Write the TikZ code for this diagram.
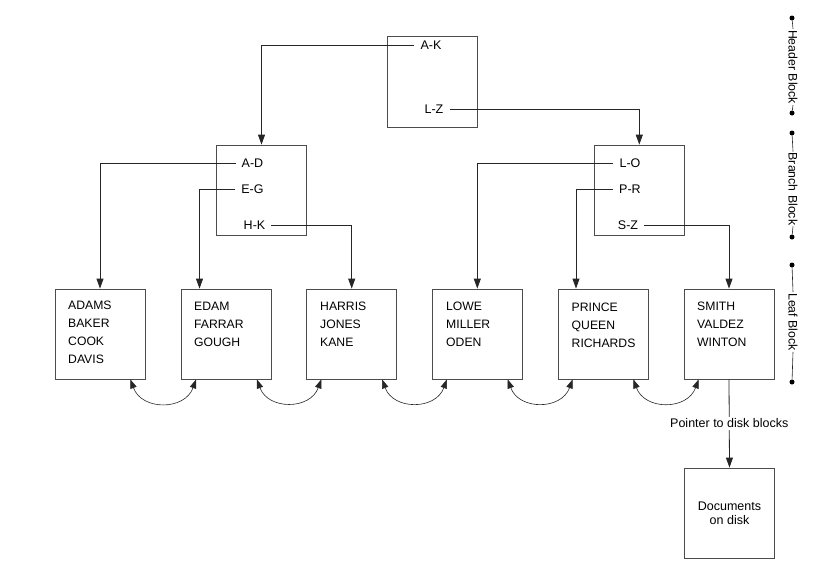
\documentclass[tikz,border=0pt]{standalone}
\usepackage{fontspec}
\setmainfont{Liberation Sans}
\usetikzlibrary{arrows.meta,calc}
\begin{document}
\begin{tikzpicture}[x=1pt,y=-1pt,
  box/.style={draw=black!70, line width=0.8pt, minimum width=90pt, minimum height=90pt, inner sep=0pt},
  lbl/.style={font=\fontsize{12.5}{14}\selectfont, inner sep=0pt, inner xsep=6pt},
  leaftxt/.style={font=\fontsize{12.2}{18}\selectfont, align=left, inner sep=0pt, anchor=north west},
  conn/.style={draw=black!85, line width=0.8pt, -{Triangle[length=10pt,width=7pt]}},
  dbl/.style={draw=black!85, line width=0.6pt, {Triangle[length=9pt,width=6.5pt]}-{Triangle[length=9pt,width=6.5pt]}},
  dot/.style={circle, fill=black, inner sep=0pt, minimum size=5pt},
  side/.style={font=\fontsize{12.3}{14}\selectfont, inner sep=1pt, rotate=-90},
  sideline/.style={draw=black!85, line width=0.6pt}
]
\useasboundingbox (0,0) rectangle (830,579);

% header block
\node[box, minimum height=91pt] (hdr) at (432.5,81.5) {};
\node[lbl] (ak) at (431,45) {A-K};
\node[lbl] (lz) at (434,109) {L-Z};

% branch blocks
\node[box] (bl) at (261.5,190) {};
\node[box] (br) at (639.3,190) {};
\node[lbl] (ad) at (252.5,163) {A-D};
\node[lbl] (eg) at (252.5,189) {E-G};
\node[lbl] (hk) at (254.5,225) {H-K};
\node[lbl] (lo) at (630,163) {L-O};
\node[lbl] (pr) at (630,189) {P-R};
\node[lbl] (sz) at (628,225) {S-Z};

% leaf blocks
\node[box] (l1) at (100,334) {};
\node[box] (l2) at (226.5,334) {};
\node[box] (l3) at (351.7,334) {};
\node[box] (l4) at (477.3,334) {};
\node[box] (l5) at (603,334) {};
\node[box] (l6) at (729,334) {};
\node[leaftxt] (t1) at (68,300.7) {ADAMS\\BAKER\\COOK\\DAVIS};
\node[leaftxt] (t2) at (194,302) {EDAM\\FARRAR\\GOUGH};
\node[leaftxt] (t3) at (320,302) {HARRIS\\JONES\\KANE};
\node[leaftxt] (t4) at (446,302) {LOWE\\MILLER\\ODEN};
\node[leaftxt] (t5) at (571.5,302.5) {PRINCE\\QUEEN\\RICHARDS};
\node[leaftxt] (t6) at (697,302) {SMITH\\VALDEZ\\WINTON};

% documents
\node[box, font=\fontsize{12.5}{14}\selectfont, align=center] (docs) at (729.5,513) {Documents\\on disk};

% connectors
\draw[conn] (ak.west) -| (bl.north);
\draw[conn] (lz.east) -| (br.north);
\draw[conn] (ad.west) -| (l1.north);
\draw[conn] (eg.west) -| ([xshift=-27pt]l2.north);
\draw[conn] (hk.east) -| (l3.north);
\draw[conn] (lo.west) -| (l4.north);
\draw[conn] (pr.west) -| ([xshift=-27pt]l5.north);
\draw[conn] (sz.east) -| (l6.north);
\draw[conn] (l6.south) -- node[fill=white, inner sep=1.5pt, font=\fontsize{12.5}{14}\selectfont] (ptr) {Pointer to disk blocks} (docs.north);

% sibling links
\draw[dbl] ([xshift=-15pt]l1.south east) to[bend right=70, looseness=1.3] ([xshift=15pt]l2.south west);
\draw[dbl] ([xshift=-15pt]l2.south east) to[bend right=70, looseness=1.3] ([xshift=15pt]l3.south west);
\draw[dbl] ([xshift=-15pt]l3.south east) to[bend right=70, looseness=1.3] ([xshift=15pt]l4.south west);
\draw[dbl] ([xshift=-15pt]l4.south east) to[bend right=70, looseness=1.3] ([xshift=15pt]l5.south west);
\draw[dbl] ([xshift=-15pt]l5.south east) to[bend right=70, looseness=1.3] ([xshift=15pt]l6.south west);

% side level markers
\node[dot] (h1) at (792,18) {};
\node[dot] (h2) at (792,113) {};
\node[side] (hb) at (793,67) {Header Block};
\draw[sideline] (h1) -- (hb.west);
\draw[sideline] (hb.east) -- (h2);

\node[dot] (b1) at (792,133) {};
\node[dot] (b2) at (792,237) {};
\node[side] (bb) at (793,189) {Branch Block};
\draw[sideline] (b1) -- (bb.west);
\draw[sideline] (bb.east) -- (b2);

\node[dot] (f1) at (792,265) {};
\node[dot] (f2) at (792,382) {};
\node[side] (fb) at (793,322) {Leaf Block};
\draw[sideline] (f1) -- (fb.west);
\draw[sideline] (fb.east) -- (f2);
\end{tikzpicture}
\end{document}
